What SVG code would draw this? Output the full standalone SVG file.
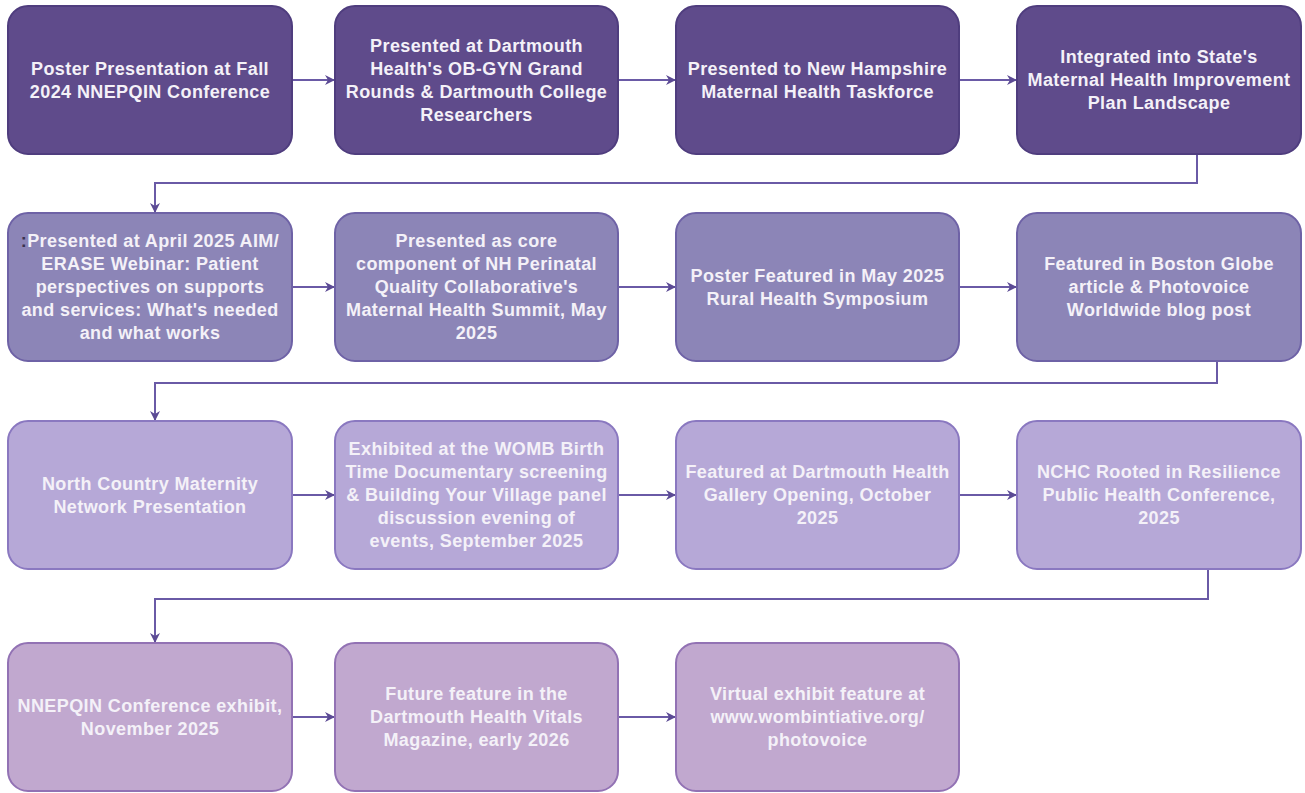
<svg xmlns="http://www.w3.org/2000/svg" width="1305" height="793" viewBox="0 0 1305 793">
<defs>
<marker id="arr" markerWidth="12" markerHeight="12" refX="10" refY="6" orient="auto" markerUnits="userSpaceOnUse">
<path d="M1,1 L11,6 L1,11 L4,6 Z" fill="#5b4a94"/>
</marker>
<style>
.box{stroke-width:2}
.r1{fill:#5f4b8b;stroke:#4f3d7e}
.r2{fill:#8c85b7;stroke:#6e62a6}
.r3{fill:#b6a8d7;stroke:#8a78c0}
.r4{fill:#c1a8cf;stroke:#9272b4}
.t{font-family:"Liberation Sans",Arial,sans-serif;font-weight:bold;font-size:18px;letter-spacing:0.4px;fill:#f4f1f8;text-anchor:middle;dominant-baseline:central}
.c{fill:none;stroke:#6a5aa6;stroke-width:2}
</style>
</defs>
<rect width="1305" height="793" fill="#ffffff"/>

<g id="connectors">
<path class="c" d="M292,80 H334" marker-end="url(#arr)"/>
<path class="c" d="M618,80 H675" marker-end="url(#arr)"/>
<path class="c" d="M959,80 H1016" marker-end="url(#arr)"/>
<path class="c" d="M1197,154 V183 H155 V212" marker-end="url(#arr)"/>
<path class="c" d="M292,287 H334" marker-end="url(#arr)"/>
<path class="c" d="M618,287 H675" marker-end="url(#arr)"/>
<path class="c" d="M959,287 H1016" marker-end="url(#arr)"/>
<path class="c" d="M1217,361 V383 H155 V420" marker-end="url(#arr)"/>
<path class="c" d="M292,495 H334" marker-end="url(#arr)"/>
<path class="c" d="M618,495 H675" marker-end="url(#arr)"/>
<path class="c" d="M959,495 H1016" marker-end="url(#arr)"/>
<path class="c" d="M1208,569 V599 H155 V642" marker-end="url(#arr)"/>
<path class="c" d="M292,717 H334" marker-end="url(#arr)"/>
<path class="c" d="M618,717 H675" marker-end="url(#arr)"/>
</g>

<g id="n1"><rect class="box r1" x="8" y="6" width="284" height="148" rx="20"/>
<text class="t"><tspan x="150" y="68.5">Poster Presentation at Fall</tspan><tspan x="150" y="91.5">2024 NNEPQIN Conference</tspan></text></g>
<g id="n2"><rect class="box r1" x="335" y="6" width="283" height="148" rx="20"/>
<text class="t"><tspan x="476.5" y="45.5">Presented at Dartmouth</tspan><tspan x="476.5" y="68.5">Health's OB-GYN Grand</tspan><tspan x="476.5" y="91.5">Rounds &amp; Dartmouth College</tspan><tspan x="476.5" y="114.5">Researchers</tspan></text></g>
<g id="n3"><rect class="box r1" x="676" y="6" width="283" height="148" rx="20"/>
<text class="t"><tspan x="817.5" y="68.5">Presented to New Hampshire</tspan><tspan x="817.5" y="91.5">Maternal Health Taskforce</tspan></text></g>
<g id="n4"><rect class="box r1" x="1017" y="6" width="284" height="148" rx="20"/>
<text class="t"><tspan x="1159" y="57">Integrated into State's</tspan><tspan x="1159" y="80">Maternal Health Improvement</tspan><tspan x="1159" y="103">Plan Landscape</tspan></text></g>

<g id="n5"><rect class="box r2" x="8" y="213" width="284" height="148" rx="20"/>
<text class="t"><tspan x="150" y="241"><tspan fill="#3a3350">:</tspan>Presented at April 2025 AIM/</tspan><tspan x="150" y="264">ERASE Webinar: Patient</tspan><tspan x="150" y="287">perspectives on supports</tspan><tspan x="150" y="310">and services: What's needed</tspan><tspan x="150" y="333">and what works</tspan></text></g>
<g id="n6"><rect class="box r2" x="335" y="213" width="283" height="148" rx="20"/>
<text class="t"><tspan x="476.5" y="241">Presented as core</tspan><tspan x="476.5" y="264">component of NH Perinatal</tspan><tspan x="476.5" y="287">Quality Collaborative's</tspan><tspan x="476.5" y="310">Maternal Health Summit, May</tspan><tspan x="476.5" y="333">2025</tspan></text></g>
<g id="n7"><rect class="box r2" x="676" y="213" width="283" height="148" rx="20"/>
<text class="t"><tspan x="817.5" y="275.5">Poster Featured in May 2025</tspan><tspan x="817.5" y="298.5">Rural Health Symposium</tspan></text></g>
<g id="n8"><rect class="box r2" x="1017" y="213" width="284" height="148" rx="20"/>
<text class="t"><tspan x="1159" y="264">Featured in Boston Globe</tspan><tspan x="1159" y="287">article &amp; Photovoice</tspan><tspan x="1159" y="310">Worldwide blog post</tspan></text></g>

<g id="n9"><rect class="box r3" x="8" y="421" width="284" height="148" rx="20"/>
<text class="t"><tspan x="150" y="483.5">North Country Maternity</tspan><tspan x="150" y="506.5">Network Presentation</tspan></text></g>
<g id="n10"><rect class="box r3" x="335" y="421" width="283" height="148" rx="20"/>
<text class="t"><tspan x="476.5" y="449">Exhibited at the WOMB Birth</tspan><tspan x="476.5" y="472">Time Documentary screening</tspan><tspan x="476.5" y="495">&amp; Building Your Village panel</tspan><tspan x="476.5" y="518">discussion evening of</tspan><tspan x="476.5" y="541">events, September 2025</tspan></text></g>
<g id="n11"><rect class="box r3" x="676" y="421" width="283" height="148" rx="20"/>
<text class="t"><tspan x="817.5" y="472">Featured at Dartmouth Health</tspan><tspan x="817.5" y="495">Gallery Opening, October</tspan><tspan x="817.5" y="518">2025</tspan></text></g>
<g id="n12"><rect class="box r3" x="1017" y="421" width="284" height="148" rx="20"/>
<text class="t"><tspan x="1159" y="472">NCHC Rooted in Resilience</tspan><tspan x="1159" y="495">Public Health Conference,</tspan><tspan x="1159" y="518">2025</tspan></text></g>

<g id="n13"><rect class="box r4" x="8" y="643" width="284" height="148" rx="20"/>
<text class="t"><tspan x="150" y="705.5">NNEPQIN Conference exhibit,</tspan><tspan x="150" y="728.5">November 2025</tspan></text></g>
<g id="n14"><rect class="box r4" x="335" y="643" width="283" height="148" rx="20"/>
<text class="t"><tspan x="476.5" y="694">Future feature in the</tspan><tspan x="476.5" y="717">Dartmouth Health Vitals</tspan><tspan x="476.5" y="740">Magazine, early 2026</tspan></text></g>
<g id="n15"><rect class="box r4" x="676" y="643" width="283" height="148" rx="20"/>
<text class="t"><tspan x="817.5" y="694">Virtual exhibit feature at</tspan><tspan x="817.5" y="717">www.wombintiative.org/</tspan><tspan x="817.5" y="740">photovoice</tspan></text></g>
</svg>
